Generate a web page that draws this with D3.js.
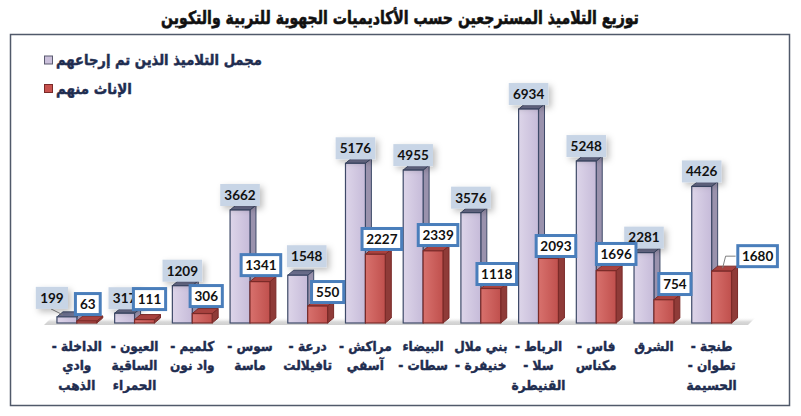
<!DOCTYPE html>
<html><head><meta charset="utf-8">
<script src="https://cdn.jsdelivr.net/npm/d3@7"></script>
<style>
html,body{margin:0;padding:0;background:#fff;}
svg{display:block;}
</style>
</head><body>
<svg id="chart" width="801" height="416"></svg>
<script>
// ---------- DATA ----------
const titleText = "توزيع التلاميذ المسترجعين حسب الأكاديميات الجهوية للتربية والتكوين";
const categories = [
  "الداخلة -\nوادي\nالذهب",
  "العيون -\nالساقية\nالحمراء",
  "كلميم -\nواد نون",
  "سوس -\nماسة",
  "درعة -\nتافيلالت",
  "مراكش -\nآسفي",
  "البيضاء\nسطات -",
  "بني ملال\nخنيفرة -",
  "الرباط -\nسلا -\nالقنيطرة",
  "فاس -\nمكناس",
  "الشرق",
  "طنجة -\nتطوان -\nالحسيمة"
];
const totalValues  = [199, 317, 1209, 3662, 1548, 5176, 4955, 3576, 6934, 5248, 2281, 4426];
const femaleValues = [63, 111, 306, 1341, 550, 2227, 2339, 1118, 2093, 1696, 754, 1680];
const seriesNames  = ["مجمل التلاميذ الذين تم إرجاعهم", "الإناث منهم"];

// ---------- LAYOUT ----------
const W = 801, H = 416;
const baseY = 323;
const depthX = 6, depthY = 5;
const arabicFont = "'DejaVu Sans', sans-serif";
const numFont = "Lato, 'Open Sans', sans-serif";
const navy = "#1f2d50";
// label nudges (pixels) relative to default placement
const totalNudge = {0: [-15, -4], 4: [9, -4]};
const femaleNudgeX = [1, 5, 4, 1, 10, 6.5, 5, 6, 7.5, 10, 11, 36];
const femaleNudgeY = [-17, -20.5, -17.5, -16.5, -14, -15.3, -15.8, -14.5, -12.4, -16.7, -15.7, -15];

const svg = d3.select("#chart");
const defs = svg.append("defs");

function lg(id, stops, x2 = "100%", y2 = "0%") {
  const g = defs.append("linearGradient").attr("id", id)
    .attr("x1", "0%").attr("y1", "0%").attr("x2", x2).attr("y2", y2);
  stops.forEach(([o, c, op]) => g.append("stop").attr("offset", o).attr("stop-color", c).attr("stop-opacity", op == null ? 1 : op));
}
lg("gPurple", [["0%", "#ddd5e9"], ["100%", "#c6bbd9"]]);
lg("gRed", [["0%", "#d8716d"], ["100%", "#c0504d"]]);
lg("gFloor", [["0%", "#ffffff", 0], ["60%", "#d9d9d9", 1], ["100%", "#cfcfcf", 1]], "0%", "100%");
const sh = defs.append("filter").attr("id", "shadow").attr("x", "-40%").attr("y", "-40%").attr("width", "200%").attr("height", "200%");
sh.append("feDropShadow").attr("dx", 3).attr("dy", 3).attr("stdDeviation", 3).attr("flood-color", "#000").attr("flood-opacity", 0.25);

// fit text horizontally to a target width (keeps glyph height)
function fitWidth(sel, cx, target) {
  const w = sel.node().getComputedTextLength();
  const k = target / w;
  sel.attr("transform", `translate(${cx},0) scale(${k},1) translate(${-cx},0)`);
}

// Title
const title = svg.append("text").attr("x", 400).attr("y", 24).attr("text-anchor", "middle")
  .attr("direction", "rtl")
  .style("font-family", arabicFont).style("font-weight", "bold").style("font-size", "18px")
  .attr("fill", "#111").attr("stroke", "#111").attr("stroke-width", 0.6).text(titleText);
fitWidth(title, 400, 478);

// Frame
svg.append("rect").attr("x", 10.5).attr("y", 34.5).attr("width", 779).attr("height", 371)
  .attr("fill", "#fff").attr("stroke", "#50596a").attr("stroke-width", 1.5);

// Scales
const x = d3.scaleBand().domain(d3.range(categories.length)).range([48, 740.5])
  .paddingInner(0.31).paddingOuter(0.155);
const xs = d3.scaleBand().domain([0, 1]).range([0, x.bandwidth()]);
const y = d3.scaleLinear().domain([0, 7000]).range([baseY, 107]);

// Floor
svg.append("polygon")
  .attr("points", [[44, baseY + 2], [748, baseY + 2], [756, baseY - 6], [52, baseY - 6]].map(p => p.join(",")).join(" "))
  .attr("fill", "url(#gFloor)");

const styles = [
  {front: "url(#gPurple)", side: "#9a92ad", top: "#6d7190", stroke: "#3e4a68"},
  {front: "url(#gRed)", side: "#8f3b38", top: "#a8423f", stroke: "#7a2a28"}
];

function bar3d(g, x0, v, st) {
  const w = xs.bandwidth();
  const yt = y(v);
  g.append("polygon").attr("points", [[x0 + w, yt], [x0 + w + depthX, yt - depthY], [x0 + w + depthX, baseY - depthY], [x0 + w, baseY]].join(" "))
    .attr("fill", st.side).attr("stroke", st.stroke).attr("stroke-width", 1).attr("stroke-linejoin", "round");
  g.append("polygon").attr("points", [[x0, yt], [x0 + depthX, yt - depthY], [x0 + w + depthX, yt - depthY], [x0 + w, yt]].join(" "))
    .attr("fill", st.top).attr("stroke", st.stroke).attr("stroke-width", 1).attr("stroke-linejoin", "round");
  g.append("rect").attr("x", x0).attr("y", yt).attr("width", w).attr("height", baseY - yt)
    .attr("fill", st.front).attr("stroke", st.stroke).attr("stroke-width", 1.2);
}

const bars = svg.append("g");
categories.forEach((c, i) => {
  const g = bars.append("g");
  bar3d(g, x(i) + xs(0), totalValues[i], styles[0]);
  bar3d(g, x(i) + xs(1), femaleValues[i], styles[1]);
});

// Leader lines
const leaders = svg.append("g").attr("fill", "none").attr("stroke", "#7f7f7f").attr("stroke-width", 1);
{
  const cx = x(0) + xs(0) + xs.bandwidth() / 2;
  leaders.append("polyline").attr("points", [[cx - 16, y(totalValues[0]) - 8], [cx - 4, y(totalValues[0]) - 2]].join(" "));
  const rx = x(11) + xs(1) + xs.bandwidth() / 2;
  const ry = y(femaleValues[11]);
  leaders.append("polyline").attr("points", [[rx + 14, ry - 15], [rx + 4, ry - 15], [rx + 1, ry - 3]].join(" "));
}

// Value labels – totals
const lblT = svg.append("g");
totalValues.forEach((v, i) => {
  const nd = totalNudge[i] || [0, 0];
  const cx = x(i) + xs(0) + xs.bandwidth() / 2 + nd[0];
  const cy = y(v) - 15 + nd[1];
  const txt = String(v);
  const bw = txt.length * 7.4 + 10, bh = 22;
  lblT.append("rect").attr("x", cx - bw / 2).attr("y", cy - bh / 2).attr("width", bw).attr("height", bh)
    .attr("fill", "#c8d5e6").attr("filter", "url(#shadow)");
  lblT.append("text").attr("x", cx).attr("y", cy).attr("dy", "0.36em").attr("text-anchor", "middle")
    .style("font-family", numFont).style("font-weight", "bold").style("font-size", "13.5px")
    .attr("fill", "#111").text(txt);
});

// Value labels – females
const lblF = svg.append("g");
femaleValues.forEach((v, i) => {
  const cx = x(i) + xs(1) + xs.bandwidth() / 2 + femaleNudgeX[i];
  const cy = y(v) + femaleNudgeY[i];
  const txt = String(v);
  const bw = txt.length * 7.4 + 10, bh = 21;
  lblF.append("rect").attr("x", cx - bw / 2).attr("y", cy - bh / 2).attr("width", bw).attr("height", bh)
    .attr("fill", "#fff").attr("stroke", "#4a7ebb").attr("stroke-width", 3);
  lblF.append("text").attr("x", cx).attr("y", cy).attr("dy", "0.36em").attr("text-anchor", "middle")
    .style("font-family", numFont).style("font-weight", "bold").style("font-size", "13.5px")
    .attr("fill", "#111").text(txt);
});

// Category labels
const cat = svg.append("g");
categories.forEach((c, i) => {
  const cx = x(i) + x.bandwidth() / 2;
  c.split("\n").forEach((line, k) => {
    const t = cat.append("text").attr("x", cx).attr("y", 346 + k * 19.5).attr("dy", "0.35em")
      .attr("text-anchor", "middle").attr("direction", "rtl")
      .style("font-family", arabicFont).style("font-weight", "bold").style("font-size", "13.5px")
      .attr("fill", navy).attr("stroke", navy).attr("stroke-width", 0.45).text(line);
    const w = t.node().getComputedTextLength();
    t.attr("transform", `translate(${cx},0) scale(0.9,1) translate(${-cx},0)`);
  });
});

// Legend
const leg = svg.append("g");
const legendFills = ["#cbc0db", "#c8524e"];
const legendStrokes = ["#5a5a70", "#7a2a28"];
const legendWidths = [206, 76];
seriesNames.forEach((n, i) => {
  const ly = 60 + i * 28.5;
  leg.append("rect").attr("x", 44.5).attr("y", ly - 4).attr("width", 8).attr("height", 8)
    .attr("fill", legendFills[i]).attr("stroke", legendStrokes[i]).attr("stroke-width", 1);
  const t = leg.append("text").attr("x", 56).attr("y", ly).attr("dy", "0.35em").attr("text-anchor", "end")
    .attr("direction", "rtl")
    .style("font-family", arabicFont).style("font-weight", "bold").style("font-size", "15px")
    .attr("fill", navy).attr("stroke", navy).attr("stroke-width", 0.5).text(n);
  fitWidth(t, 56, legendWidths[i]);
});
</script>
</body></html>
